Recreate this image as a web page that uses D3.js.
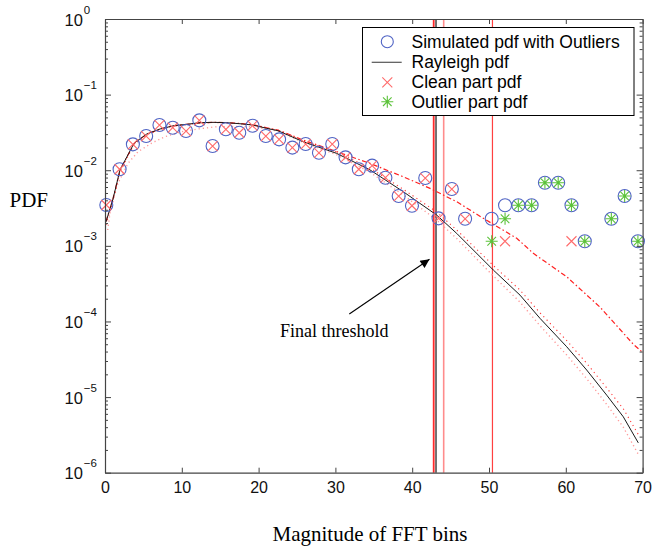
<!DOCTYPE html>
<html><head><meta charset="utf-8">
<script src="https://cdn.jsdelivr.net/npm/d3@7/dist/d3.min.js"></script>
<style>body{margin:0;background:#fff}svg{display:block}</style>
</head><body>
<script>
// ---- data ----
const binX = [0.17,1.90,3.63,5.36,7.09,8.82,10.55,12.28,14.01,15.74,17.48,19.21,20.94,22.67,24.40,26.13,27.86,29.59,31.32,33.05,34.78,36.51,38.24,39.97,41.70,43.43,45.16,46.89,48.62,50.35,52.09,53.82,55.55,57.28,59.01,60.74,62.47,64.20,65.93,67.66,69.39];
const simulatedPdf = [3.47e-3,1.03e-2,2.20e-2,2.83e-2,3.96e-2,3.65e-2,3.30e-2,4.57e-2,2.09e-2,3.48e-2,3.13e-2,3.88e-2,2.83e-2,2.56e-2,1.99e-2,2.22e-2,1.70e-2,2.22e-2,1.48e-2,1.03e-2,1.15e-2,7.96e-3,4.56e-3,3.39e-3,7.88e-3,2.31e-3,5.64e-3,2.28e-3,null,2.28e-3,3.44e-3,3.44e-3,3.44e-3,6.84e-3,6.84e-3,3.44e-3,1.15e-3,null,2.28e-3,4.56e-3,1.15e-3];
const cleanPdf = [3.47e-3,1.03e-2,2.20e-2,2.83e-2,3.96e-2,3.65e-2,3.30e-2,4.57e-2,2.09e-2,3.48e-2,3.13e-2,3.88e-2,2.83e-2,2.56e-2,1.99e-2,2.22e-2,1.70e-2,2.22e-2,1.48e-2,1.03e-2,1.15e-2,7.96e-3,4.56e-3,3.39e-3,7.88e-3,2.31e-3,5.64e-3,2.28e-3,null,null,1.15e-3,null,null,null,null,1.15e-3,null,null,null,null,null];
const outlierPdf = [null,null,null,null,null,null,null,null,null,null,null,null,null,null,null,null,null,null,null,null,null,null,null,null,null,null,null,null,null,1.15e-3,2.28e-3,3.44e-3,3.44e-3,6.84e-3,6.84e-3,3.44e-3,1.15e-3,null,2.28e-3,4.56e-3,1.15e-3];

// solid Rayleigh curve and the red dotted fit that hugs it
const curveX = [0.13,1.04,1.95,3.78,5.43,7.16,8.95,10.64,12.37,14.10,15.85,17.58,19.27,21.05,22.53,25.82,30.17,34.51,38.84,43.19,45.80,50.56,54.04,56.64,60.12,62.72,65.33,67.49,69.44];
const rayleighPdf = [2.08e-3,4.16e-3,1.01e-2,2.27e-2,3.01e-2,3.51e-2,3.88e-2,4.05e-2,4.25e-2,4.30e-2,4.25e-2,4.12e-2,3.96e-2,3.58e-2,3.33e-2,2.38e-2,1.67e-2,1.01e-2,5.20e-3,2.55e-3,1.46e-3,4.79e-4,2.23e-4,1.10e-4,4.63e-5,2.28e-5,1.06e-5,5.48e-6,2.48e-6];
const upperFit = [1.9e-3,3.9e-3,9.5e-3,2.2e-2,2.95e-2,3.45e-2,3.85e-2,4.02e-2,4.22e-2,4.28e-2,4.24e-2,4.12e-2,3.97e-2,3.62e-2,3.38e-2,2.45e-2,1.74e-2,1.07e-2,5.6e-3,2.8e-3,1.62e-3,5.5e-4,2.6e-4,1.3e-4,5.6e-5,2.8e-5,1.32e-5,7.0e-6,3.2e-6];
// pink dotted fit (low at the start, below the solid curve in the tail)
const lowerX = [0.35,0.82,1.69,2.99,4.30,6.03,7.77,9.93,12.11,14.54,17.58,19.27,21.05,22.53,25.82,30.17,34.51,38.84,43.19,45.80,50.56,54.04,56.64,60.12,62.72,65.33,67.49,69.44];
const lowerFit = [1.62e-3,3.65e-3,6.71e-3,1.23e-2,1.76e-2,2.27e-2,2.77e-2,3.23e-2,3.51e-2,3.76e-2,3.8e-2,3.75e-2,3.5e-2,3.28e-2,2.33e-2,1.6e-2,9.4e-3,4.7e-3,2.2e-3,1.25e-3,4.0e-4,1.8e-4,8.8e-5,3.6e-5,1.75e-5,8.0e-6,4.0e-6,1.75e-6];
// red dash-dot fit (follows the solid curve, then a heavier tail)
const contamX = [0.13,1.04,1.95,3.78,5.43,7.16,8.95,10.64,12.37,14.10,15.85,17.58,19.27,21.05,22.53,24.09,25.82,30.17,34.51,38.84,42.32,45.80,49.26,53.61,55.77,60.12,64.45,68.79,70.0];
const contamFit = [2.1e-3,4.2e-3,1.0e-2,2.25e-2,3.0e-2,3.5e-2,3.87e-2,4.04e-2,4.24e-2,4.3e-2,4.26e-2,4.15e-2,4.0e-2,3.65e-2,3.4e-2,2.95e-2,2.5e-2,1.76e-2,1.23e-2,8.2e-3,5.76e-3,3.83e-3,2.31e-3,1.26e-3,7.96e-4,3.9e-4,1.55e-4,5.0e-5,3.9e-5];

const thresholds = [42.8, 43.1, 44.1, 50.45];
const xTicks = [0,10,20,30,40,50,60,70];
const yDecades = [-6,-5,-4,-3,-2,-1,0];
const legendLabels = ["Simulated pdf with Outliers","Rayleigh pdf","Clean part pdf","Outlier part pdf"];

// ---- drawing ----
const W = 653, H = 548;
const svg = d3.select("body").append("svg").attr("width", W).attr("height", H);
const x = d3.scaleLinear().domain([0,70]).range([105,642.6]);
const y = d3.scaleLog().domain([1e-6,1]).range([472.7,19]);
const axisColor = "#444";

const minor = [];
yDecades.slice(0,-1).forEach(e => { for (let k=2;k<10;k++) minor.push(k*Math.pow(10,e)); });
const majors = yDecades.map(e => Math.pow(10,e));

const plot = svg.append("g");

// threshold lines
const thrStyle = [{c:"#ff2a2a",w:1.8},{c:"#000",w:1.1},{c:"#ff8c8c",w:1.6},{c:"#ff4040",w:1.2}];
plot.selectAll("line.thr").data(thresholds).join("line")
  .attr("x1", d=>x(d)).attr("x2", d=>x(d)).attr("y1", y(1)).attr("y2", y(1e-6))
  .attr("stroke", (d,i)=>thrStyle[i].c).attr("stroke-width",(d,i)=>thrStyle[i].w);

// curves
const line = (xs) => d3.line().x((d,i)=>x(xs[i])).y(d=>y(d));
plot.append("path").datum(lowerFit).attr("d", line(lowerX)).attr("fill","none")
  .attr("stroke","#ff9a9a").attr("stroke-width",1.4).attr("stroke-dasharray","1.2,3");
plot.append("path").datum(upperFit).attr("d", line(curveX)).attr("fill","none")
  .attr("stroke","#ff3a3a").attr("stroke-width",1.1).attr("stroke-dasharray","1.2,3.5");
plot.append("path").datum(contamFit).attr("d", line(contamX)).attr("fill","none")
  .attr("stroke","#ff2020").attr("stroke-width",1.2).attr("stroke-dasharray","5,2.5,1.5,2.5");
plot.append("path").datum(rayleighPdf).attr("d", line(curveX)).attr("fill","none")
  .attr("stroke","#1a1a1a").attr("stroke-width",1);

// markers
const circColor = "#4f63c4", xColor = "#ff6a6a", starColor = "#5cc23a";
const idx = d3.range(binX.length);
plot.selectAll("circle.sim").data(idx.filter(i=>simulatedPdf[i]!=null)).join("circle")
  .attr("cx", i=>x(binX[i])).attr("cy", i=>y(simulatedPdf[i])).attr("r",6.5)
  .attr("fill","none").attr("stroke",circColor).attr("stroke-width",1.1);
const cross = (g, s) => g.append("path").attr("d",`M${-s},${-s}L${s},${s}M${-s},${s}L${s},${-s}`);
plot.selectAll("g.cl").data(idx.filter(i=>cleanPdf[i]!=null)).join("g")
  .attr("transform", i=>`translate(${x(binX[i])},${y(cleanPdf[i])})`)
  .each(function(){ cross(d3.select(this),5).attr("stroke",xColor).attr("stroke-width",1.1); });
plot.selectAll("g.ol").data(idx.filter(i=>outlierPdf[i]!=null)).join("g")
  .attr("transform", i=>`translate(${x(binX[i])},${y(outlierPdf[i])})`)
  .each(function(){
    const g = d3.select(this);
    g.append("path").attr("d","M-6,0H6M0,-6V6M-4.3,-4.3L4.3,4.3M-4.3,4.3L4.3,-4.3")
      .attr("stroke",starColor).attr("stroke-width",1.1);
  });

// axes
function styleAxis(g){ g.selectAll("path.domain").attr("stroke",axisColor).attr("stroke-width",1.2);
  g.selectAll(".tick line").attr("stroke",axisColor); }
const axB = svg.append("g").attr("transform",`translate(0,${y(1e-6)})`)
  .call(d3.axisBottom(x).tickValues(xTicks).tickSizeInner(-5).tickSizeOuter(0).tickPadding(9).tickFormat(d3.format("d")));
axB.selectAll("text").attr("font-family","Liberation Sans, Arial, sans-serif").attr("font-size",16).attr("fill","#111");
styleAxis(axB);
const axT = svg.append("g").attr("transform",`translate(0,${y(1)})`)
  .call(d3.axisTop(x).tickValues(xTicks).tickSizeInner(-5).tickSizeOuter(0).tickFormat(""));
styleAxis(axT);
const axL = svg.append("g").attr("transform",`translate(${x(0)},0)`)
  .call(d3.axisLeft(y).tickValues(majors).tickSizeInner(-6).tickSizeOuter(0).tickPadding(0).tickFormat(""));
styleAxis(axL);
svg.append("g").attr("transform",`translate(${x(0)},0)`)
  .call(d3.axisLeft(y).tickValues(minor).tickSizeInner(-3).tickSizeOuter(0).tickFormat(""))
  .call(g=>{g.select(".domain").remove(); g.selectAll(".tick line").attr("stroke",axisColor);});
const axR = svg.append("g").attr("transform",`translate(${x(70)},0)`)
  .call(d3.axisRight(y).tickValues(majors).tickSizeInner(-6).tickSizeOuter(0).tickFormat(""));
styleAxis(axR);
svg.append("g").attr("transform",`translate(${x(70)},0)`)
  .call(d3.axisRight(y).tickValues(minor).tickSizeInner(-3).tickSizeOuter(0).tickFormat(""))
  .call(g=>{g.select(".domain").remove(); g.selectAll(".tick line").attr("stroke",axisColor);});

// decade labels 10^n
axL.selectAll(".tick").each(function(d){
  const e = Math.round(Math.log10(d));
  const t = d3.select(this).append("text").attr("x",-40.5).attr("y",6)
    .attr("font-family","Liberation Sans, Arial, sans-serif").attr("fill","#111").attr("text-anchor","start");
  t.append("tspan").attr("font-size",16.5).text("10");
  t.append("tspan").attr("font-size",11.5).attr("dy",-12).attr("dx",1).text(e===0?"0":"\u2212"+(-e));
});

// legend
const lg = svg.append("g");
lg.append("rect").attr("x",362.5).attr("y",27.5).attr("width",271.5).attr("height",88)
  .attr("fill","#fff").attr("stroke","#000").attr("stroke-width",1);
const rowY = [41.7,62.3,82.3,101.7];
lg.selectAll("text").data(legendLabels).join("text")
  .attr("x",411.5).attr("y",(d,i)=>rowY[i]+6).text(d=>d)
  .attr("font-family","Liberation Sans, Arial, sans-serif").attr("font-size",17.5).attr("fill","#000");
lg.append("circle").attr("cx",387.3).attr("cy",rowY[0]).attr("r",6).attr("fill","none").attr("stroke",circColor).attr("stroke-width",1.1);
lg.append("line").attr("x1",371.7).attr("x2",401.7).attr("y1",rowY[1]).attr("y2",rowY[1]).attr("stroke","#555").attr("stroke-width",1.2);
cross(lg.append("g").attr("transform",`translate(387.3,${rowY[2]})`),5).attr("stroke",xColor).attr("stroke-width",1.1);
lg.append("g").attr("transform",`translate(387.3,${rowY[3]})`).append("path")
  .attr("d","M-6,0H6M0,-6V6M-4.3,-4.3L4.3,4.3M-4.3,4.3L4.3,-4.3").attr("stroke",starColor).attr("stroke-width",1.1);

// annotation
svg.append("defs").append("marker").attr("id","ah").attr("viewBox","0 0 10 10").attr("refX",10).attr("refY",5)
  .attr("markerWidth",12).attr("markerHeight",9).attr("markerUnits","userSpaceOnUse").attr("orient","auto")
  .append("path").attr("d","M0,0L10,5L0,10Z").attr("fill","#000");
svg.append("line").attr("x1",349.3).attr("y1",314).attr("x2",429.5).attr("y2",259.3)
  .attr("stroke","#000").attr("stroke-width",1.1).attr("marker-end","url(#ah)");
svg.append("text").attr("x",280).attr("y",336.5).text("Final threshold")
  .attr("font-family","Liberation Serif, Times New Roman, serif").attr("font-size",18).attr("fill","#000");

// axis titles
svg.append("text").attr("x",9.5).attr("y",207.3).text("PDF")
  .attr("font-family","Liberation Serif, Times New Roman, serif").attr("font-size",21).attr("fill","#000");
svg.append("text").attr("x",370).attr("y",541).attr("text-anchor","middle").text("Magnitude of FFT bins")
  .attr("font-family","Liberation Serif, Times New Roman, serif").attr("font-size",21).attr("fill","#000");
</script>
</body></html>
